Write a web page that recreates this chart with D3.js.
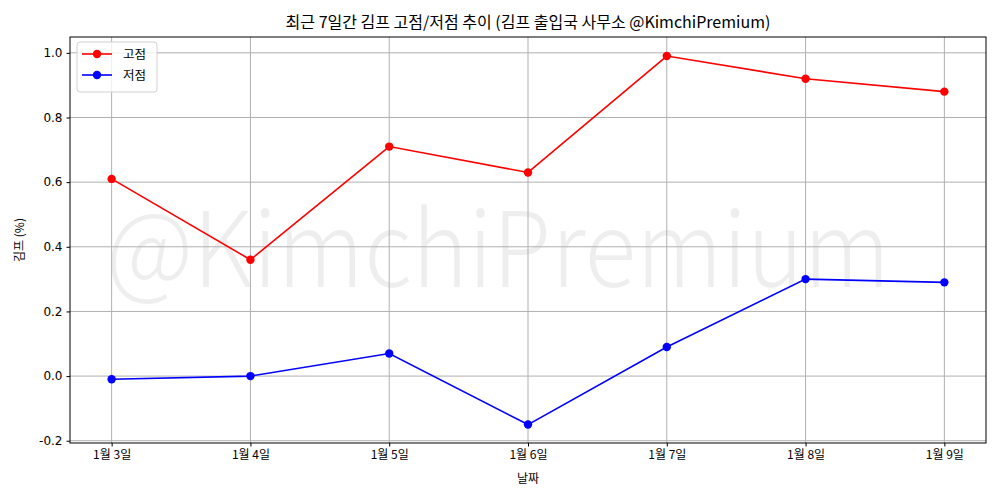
<!DOCTYPE html>
<html>
<head>
<meta charset="utf-8">
<script src="https://cdn.jsdelivr.net/npm/d3@7"></script>
<style>
  body { margin: 0; background: #fff; }
  svg { display: block; }
  text { font-family: "Noto Sans CJK KR", "Noto Sans", sans-serif; }
</style>
</head>
<body>
<svg id="chart" width="1000" height="500"></svg>
<script>
const categories = ["1월 3일", "1월 4일", "1월 5일", "1월 6일", "1월 7일", "1월 8일", "1월 9일"];
const highValues = [0.61, 0.36, 0.71, 0.63, 0.99, 0.92, 0.88];
const lowValues = [-0.01, 0.00, 0.07, -0.15, 0.09, 0.30, 0.29];
const yTicks = [-0.2, 0.0, 0.2, 0.4, 0.6, 0.8, 1.0];
const seriesNames = ["고점", "저점"];
const seriesColors = ["#ff0000", "#0000ff"];
const titleText = "최근 7일간 김프 고점/저점 추이 (김프 출입국 사무소 @KimchiPremium)";
const xLabel = "날짜";
const yLabel = "김프 (%)";
const watermark = "@KimchiPremium";

const svg = d3.select("#chart");
const L = 70, R = 986, T = 37, B = 443;

const x = d3.scalePoint().domain(categories).range([L, R]).padding(0.3);
const y = d3.scaleLinear().domain([-0.207, 1.049]).range([B, T]);

// watermark
svg.append("text")
  .attr("x", 106).attr("y", 287)
  .attr("textLength", 784).attr("lengthAdjust", "spacingAndGlyphs")
  .style("font-family", "'Noto Sans CJK KR', sans-serif")
  .style("font-weight", 300)
  .attr("font-size", 104)
  .attr("fill", "#000").attr("fill-opacity", 0.065)
  .text(watermark);

// grid
const grid = svg.append("g");
grid.selectAll("line.v").data(categories).join("line")
  .attr("x1", d => x(d)).attr("x2", d => x(d))
  .attr("y1", T).attr("y2", B)
  .attr("stroke", "#b0b0b0").attr("stroke-width", 1);
grid.selectAll("line.h").data(yTicks).join("line")
  .attr("x1", L).attr("x2", R)
  .attr("y1", d => y(d)).attr("y2", d => y(d))
  .attr("stroke", "#b0b0b0").attr("stroke-width", 1);

// axes
const xAxis = d3.axisBottom(x).tickSize(3.5).tickPadding(4);
const gx = svg.append("g").attr("transform", `translate(0,${B})`).call(xAxis);
gx.select(".domain").remove();
gx.selectAll("text").attr("font-size", 12).attr("fill", "#000")
  .style("font-family", "'Noto Sans CJK KR', sans-serif");

const yAxis = d3.axisLeft(y).tickValues(yTicks).tickSize(3.5).tickPadding(4)
  .tickFormat(d => d3.format(".1f")(d).replace("−", "-"));
const gy = svg.append("g").attr("transform", `translate(${L},0)`).call(yAxis);
gy.select(".domain").remove();
gy.selectAll("text").attr("font-size", 12).attr("fill", "#000")
  .style("font-family", "'DejaVu Sans', sans-serif");

// frame
svg.append("rect").attr("x", L).attr("y", T).attr("width", R - L).attr("height", B - T)
  .attr("fill", "none").attr("stroke", "#000").attr("stroke-width", 1);

// series
const series = [highValues, lowValues];
const line = d3.line().x((d, i) => x(categories[i])).y(d => y(d));
series.forEach((vals, si) => {
  svg.append("path").datum(vals).attr("d", line)
    .attr("fill", "none").attr("stroke", seriesColors[si]).attr("stroke-width", 1.6);
  svg.append("g").selectAll("circle").data(vals).join("circle")
    .attr("cx", (d, i) => x(categories[i])).attr("cy", d => y(d)).attr("r", 4.2)
    .attr("fill", seriesColors[si]);
});

// title & labels
svg.append("text").attr("x", (L + R) / 2).attr("y", 28).attr("text-anchor", "middle")
  .attr("font-size", 16).attr("fill", "#000").text(titleText);
svg.append("text").attr("x", (L + R) / 2).attr("y", 483).attr("text-anchor", "middle")
  .attr("font-size", 12).attr("fill", "#000").text(xLabel);
svg.append("text").attr("transform", `translate(24,${(T + B) / 2}) rotate(-90)`)
  .attr("text-anchor", "middle").attr("font-size", 12).attr("fill", "#000").text(yLabel);

// legend
const lg = svg.append("g").attr("transform", `translate(77,42)`);
lg.append("rect").attr("width", 80).attr("height", 50).attr("rx", 3)
  .attr("fill", "#fff").attr("fill-opacity", 0.8).attr("stroke", "#d0d0d0");
seriesNames.forEach((n, i) => {
  const yy = 12 + i * 21;
  lg.append("line").attr("x1", 5).attr("x2", 35).attr("y1", yy).attr("y2", yy)
    .attr("stroke", seriesColors[i]).attr("stroke-width", 1.6);
  lg.append("circle").attr("cx", 20).attr("cy", yy).attr("r", 4.2).attr("fill", seriesColors[i]);
  lg.append("text").attr("x", 46).attr("y", yy + 4.5).attr("font-size", 12.5).attr("fill", "#000").text(n);
});
</script>
</body>
</html>
